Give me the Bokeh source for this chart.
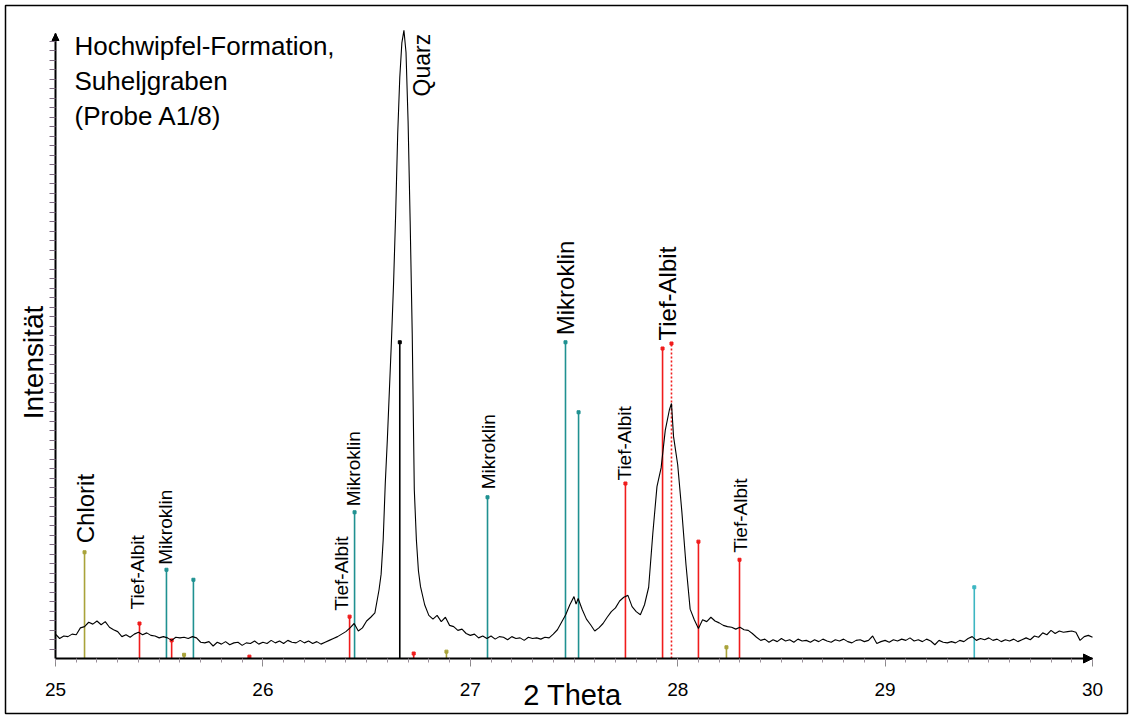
from math import pi

from bokeh.core.properties import value
from bokeh.embed import file_html
from bokeh.models import (Arrow, ColumnDataSource, FixedTicker, Label,
                          NormalHead, Range1d, SingleIntervalTicker)
from bokeh.plotting import figure
from bokeh.resources import INLINE

# ---------------------------------------------------------------- data
# measured diffractogram (2 theta in degrees, relative intensity)
two_theta = [
    25.00, 25.02, 25.04, 25.06, 25.08, 25.10, 25.12, 25.14, 25.16, 25.18,
    25.20, 25.22, 25.24, 25.26, 25.28, 25.30, 25.32, 25.34, 25.36, 25.38,
    25.40, 25.42, 25.44, 25.46, 25.48, 25.50, 25.52, 25.54, 25.56, 25.58,
    25.60, 25.62, 25.64, 25.66, 25.68, 25.70, 25.72, 25.74, 25.76, 25.78,
    25.80, 25.82, 25.84, 25.86, 25.88, 25.90, 25.92, 25.94, 25.96, 25.98,
    26.00, 26.02, 26.04, 26.06, 26.08, 26.10, 26.12, 26.14, 26.16, 26.18,
    26.20, 26.22, 26.24, 26.26, 26.28, 26.30, 26.32, 26.34, 26.36, 26.38,
    26.40, 26.42, 26.44, 26.46, 26.48, 26.50, 26.52, 26.54, 26.56,
    26.57, 26.58, 26.59, 26.60, 26.61, 26.62, 26.63, 26.64, 26.65, 26.66,
    26.67, 26.68, 26.69, 26.70, 26.71, 26.72, 26.73, 26.74, 26.75, 26.76,
    26.78, 26.80, 26.82, 26.84, 26.86, 26.88, 26.90, 26.92, 26.94, 26.96,
    26.98, 27.00, 27.02, 27.04, 27.06, 27.08, 27.10, 27.12, 27.14, 27.16,
    27.18, 27.20, 27.22, 27.24, 27.26, 27.28, 27.30, 27.32, 27.34, 27.36,
    27.38, 27.40, 27.42, 27.44, 27.46, 27.48, 27.50, 27.51, 27.52,
    27.54, 27.56, 27.58, 27.60, 27.62, 27.64, 27.66, 27.68, 27.70, 27.72,
    27.74, 27.76, 27.78, 27.80, 27.82, 27.84, 27.86, 27.88, 27.90, 27.92,
    27.94, 27.96, 27.97, 27.98,
    28.00, 28.02, 28.04, 28.06, 28.08, 28.10, 28.12, 28.14, 28.16, 28.18,
    28.20, 28.22, 28.24, 28.26, 28.28, 28.30, 28.32, 28.34, 28.36, 28.38,
    28.40, 28.42, 28.44, 28.46, 28.48, 28.50, 28.52, 28.54, 28.56, 28.58,
    28.60, 28.62, 28.64, 28.66, 28.68, 28.70, 28.72, 28.74, 28.76, 28.78,
    28.80, 28.82, 28.84, 28.86, 28.88, 28.90, 28.92, 28.94, 28.96, 28.98,
    29.00, 29.02, 29.04, 29.06, 29.08, 29.10, 29.12, 29.14, 29.16, 29.18,
    29.20, 29.22, 29.24, 29.26, 29.28, 29.30, 29.32, 29.34, 29.36, 29.38,
    29.40, 29.42, 29.44, 29.46, 29.48, 29.50, 29.52, 29.54, 29.56, 29.58,
    29.60, 29.62, 29.64, 29.66, 29.68, 29.70, 29.72, 29.74, 29.76, 29.78,
    29.80, 29.82, 29.84, 29.86, 29.88, 29.90, 29.92, 29.94, 29.96, 29.98,
    30.00,
]
intensity = [
    3.9, 3.2, 3.6, 3.5, 3.9, 3.8, 4.9, 5.1, 5.8, 5.5,
    6.0, 5.4, 5.9, 5.0, 4.6, 4.3, 3.5, 3.8, 3.4, 3.9,
    4.2, 3.8, 4.1, 3.7, 3.6, 3.3, 3.5, 3.3, 2.9, 3.4,
    3.3, 3.4, 3.2, 3.5, 3.3, 2.6, 2.5, 2.7, 2.0, 2.6,
    2.3, 2.7, 2.2, 2.5, 2.6, 2.1, 2.5, 2.4, 2.8, 2.3,
    2.6, 2.4, 2.9, 2.5, 2.8, 2.4, 2.9, 2.6, 2.5, 2.9,
    2.5, 2.8, 2.4, 2.7, 2.3, 2.6, 2.9, 3.2, 3.5, 3.9,
    4.3, 4.9, 5.6, 4.4, 4.9, 6.0, 6.6, 7.3, 11.0,
    13.5, 19.0, 28.0, 35.0, 43.0, 51.0, 60.0, 71.0, 84.0, 93.0,
    98.5, 100.5, 97.0, 86.0, 70.0, 52.0, 27.0, 19.0, 14.0, 11.5,
    8.6, 6.9, 6.3, 6.9, 5.9, 6.6, 5.3, 5.1, 4.5, 4.7,
    4.0, 3.7, 3.9, 3.3, 3.6, 3.2, 3.6, 3.1, 3.5, 3.4,
    3.0, 3.5, 3.2, 3.3, 2.9, 3.4, 3.2, 3.3, 3.1, 3.4,
    3.3, 3.9, 4.6, 5.8, 7.0, 8.6, 9.9, 8.7, 9.6,
    7.8, 6.3, 5.4, 4.4, 4.9, 5.6, 6.6, 7.5, 8.1, 9.2,
    9.8, 10.1, 8.3, 7.5, 7.0, 8.6, 11.4, 20.0, 27.5, 30.5,
    36.5, 39.8, 40.8, 35.5,
    31.0, 23.5, 15.0, 7.9, 6.2, 4.8, 6.2, 5.9, 6.6, 6.0,
    5.7, 5.3, 5.1, 5.0, 4.7, 5.0, 4.6, 4.5, 4.0, 3.4,
    2.9, 3.1, 2.6, 3.0, 2.7, 3.2, 2.8, 3.0, 2.6, 3.1,
    2.8, 2.9, 2.6, 3.0, 2.7, 3.1, 2.8, 2.6, 3.0, 2.8,
    3.1, 2.7, 2.5, 2.9, 3.0, 2.7, 2.9, 3.6, 2.4, 2.7,
    2.9, 2.6, 3.0, 2.8, 3.1, 2.9, 3.3, 2.8, 3.0, 2.7,
    3.1, 2.8, 2.2, 2.9, 2.6, 2.5, 2.7, 2.5, 2.9, 2.7,
    3.2, 3.5, 2.9, 3.2, 3.0, 3.3, 2.9, 3.1, 2.7, 3.0,
    2.8, 3.1, 2.7, 3.0, 3.3, 3.0, 3.6, 3.4, 4.1, 3.8,
    4.5, 4.0, 4.4, 4.2, 4.3, 4.4, 4.2, 2.9, 3.5, 3.7,
    3.4,
]

# reference reflections of the identified minerals
stick_pos = [25.14, 25.405, 25.535, 25.56, 25.62, 25.665, 25.935, 26.418,
             26.442, 26.66, 26.727, 26.885, 27.083, 27.459, 27.522, 27.748,
             27.927, 27.97, 28.10, 28.235, 28.298, 29.43]
stick_int = [17.0, 5.6, 14.2, 2.9, 0.6, 12.6, 0.3, 6.7,
             23.4, 50.6, 0.8, 1.1, 25.8, 50.6, 39.4, 28.0,
             49.6, 50.4, 18.7, 1.8, 15.8, 11.4]
stick_phase = ["Chlorit", "Tief-Albit", "Mikroklin", "Tief-Albit", "Chlorit",
               "Mikroklin", "Tief-Albit", "Tief-Albit", "Mikroklin", "Quarz",
               "Tief-Albit", "Chlorit", "Mikroklin", "Mikroklin", "Mikroklin",
               "Tief-Albit", "Tief-Albit", "Tief-Albit", "Tief-Albit",
               "Chlorit", "Tief-Albit", "Sonstige"]
# reflections that carry a name in the diagram
labelled = [0, 1, 2, 7, 8, 12, 13, 15, 17, 20]

x_ticks = [25, 26, 27, 28, 29, 30]

# ---------------------------------------------------------------- styling
FONT = "Liberation Sans"
phase_color = {
    "Chlorit": "#a9a33a",
    "Tief-Albit": "#f01c1c",
    "Mikroklin": "#1f9191",
    "Quarz": "#000000",
    "Sonstige": "#3db6c2",
}
# per labelled reflection: font size, horizontal shift, gap above the stick (px)
label_style = {
    0: ("24px", 1, 9), 1: ("19px", -2, 14), 2: ("19px", -1, 5),
    7: ("19px", -8, 6), 8: ("19px", -1, 6), 12: ("19px", 1, 8),
    13: ("24px", 0, 7), 15: ("19px", -1, 3), 17: ("24px", -4, 3),
    20: ("19px", 1, 7),
}
dashed = {17}

W, H = 1131, 718
FL, FR, FT, FB = 5, 4, 5, 5          # frame = outer border of the drawing
PX25, PX30 = 55, 1092                # screen position of 25 and 30 deg
PY0, PY100 = 658, 33                 # screen position of intensity 0 and 100
sx = (PX30 - PX25) / 5.0
sy = (PY0 - PY100) / 100.0
x_start = 25 - (PX25 - FL) / sx
x_end = x_start + (W - FL - FR) / sx
y_start = -(H - FB - PY0) / sy
y_end = (PY0 - FT) / sy


def data_x(px):
    return x_start + (px - FL) / sx


def data_y(py):
    return y_start + (H - FB - py) / sy


p = figure(width=W, height=H, output_backend="svg", toolbar_location=None,
           x_range=Range1d(x_start, x_end), y_range=Range1d(y_start, y_end),
           min_border_left=FL, min_border_right=FR,
           min_border_top=FT, min_border_bottom=FB)
p.background_fill_color = "white"
p.border_fill_color = "white"
p.outline_line_color = "black"
p.outline_line_width = 1.5
p.xgrid.visible = False
p.ygrid.visible = False

# x axis drawn through intensity 0
xa = p.xaxis[0]
xa.fixed_location = 0
xa.bounds = (25, 30)
xa.ticker = SingleIntervalTicker(interval=1, num_minor_ticks=10)
xa.major_label_overrides = {t: str(t) for t in x_ticks}
xa.axis_line_width = 2
xa.axis_line_color = "black"
xa.major_tick_in = 0
xa.major_tick_out = 8
xa.minor_tick_in = 0
xa.minor_tick_out = 4
xa.major_tick_line_color = "#8a8a8a"
xa.minor_tick_line_color = "#9a8f9a"
xa.major_label_standoff = 16
xa.major_label_text_font = FONT
xa.major_label_text_font_size = "19px"
xa.major_label_text_color = "black"

# intensity axis without numbers
ya = p.yaxis[0]
ya.fixed_location = 25
ya.bounds = (0, 100)
ya.ticker = FixedTicker(ticks=[i * 1.52 for i in range(1, 66)])
ya.axis_line_width = 2
ya.axis_line_color = "black"
ya.major_tick_in = 0
ya.major_tick_out = 6
ya.major_tick_line_color = "#7d6a80"
ya.minor_tick_line_color = None
ya.major_label_text_font_size = "0px"
ya.major_label_text_alpha = 0

# arrow heads at the axis ends
p.add_layout(Arrow(end=NormalHead(size=9, fill_color="black", line_color="black"),
                   x_start=29.97, y_start=0, x_end=30, y_end=0,
                   line_color="black", line_width=2))
p.add_layout(Arrow(end=NormalHead(size=7, fill_color="black", line_color="black"),
                   x_start=25, y_start=99, x_end=25, y_end=100,
                   line_color="black", line_width=1.5))

# reference sticks
solid = [i for i in range(len(stick_pos)) if i not in dashed]
for idxs, dash in ((solid, "solid"), (sorted(dashed), "2 2")):
    src = ColumnDataSource(dict(
        x=[stick_pos[i] for i in idxs],
        y0=[0] * len(idxs),
        y1=[stick_int[i] for i in idxs],
        c=[phase_color[stick_phase[i]] for i in idxs],
    ))
    p.segment(x0="x", y0="y0", x1="x", y1="y1", color="c", line_width=1.6,
              line_dash=dash, source=src)
    p.scatter(x="x", y="y1", marker="square", size=3, color="c", source=src)

# diffractogram
p.line(two_theta, intensity, line_color="black", line_width=1.1)

# mineral names above the sticks
lab_src = ColumnDataSource(dict(
    x=[stick_pos[i] for i in labelled],
    y=[stick_int[i] for i in labelled],
    text=[stick_phase[i] for i in labelled],
    size=[label_style[i][0] for i in labelled],
    xo=[label_style[i][1] for i in labelled],
    yo=[-label_style[i][2] for i in labelled],
))
p.text(x="x", y="y", text="text", source=lab_src, angle=pi / 2,
       x_offset="xo", y_offset="yo", text_font=value(FONT),
       text_font_size="size", text_align="left", text_baseline="middle",
       text_color="black")

# quartz name beside the main peak
p.add_layout(Label(x=data_x(421), y=data_y(96), text="Quarz", angle=pi / 2,
                   text_font=FONT, text_font_size="23px", text_color="black",
                   text_align="left", text_baseline="middle"))

# sample description
p.add_layout(Label(x=data_x(74), y=data_y(30),
                   text="Hochwipfel-Formation,\nSuheljgraben\n(Probe A1/8)",
                   text_font=FONT, text_font_size="26px", text_line_height=1.17,
                   text_color="black", text_align="left", text_baseline="top"))

# axis titles
p.add_layout(Label(x=data_x(33), y=data_y(362), text="Intensität", angle=pi / 2,
                   text_font=FONT, text_font_size="28px", text_color="black",
                   text_align="center", text_baseline="middle"))
p.add_layout(Label(x=data_x(572), y=data_y(694), text="2 Theta",
                   text_font=FONT, text_font_size="29px", text_color="black",
                   text_align="center", text_baseline="middle"))

open("out.html", "w").write(file_html(p, INLINE))
